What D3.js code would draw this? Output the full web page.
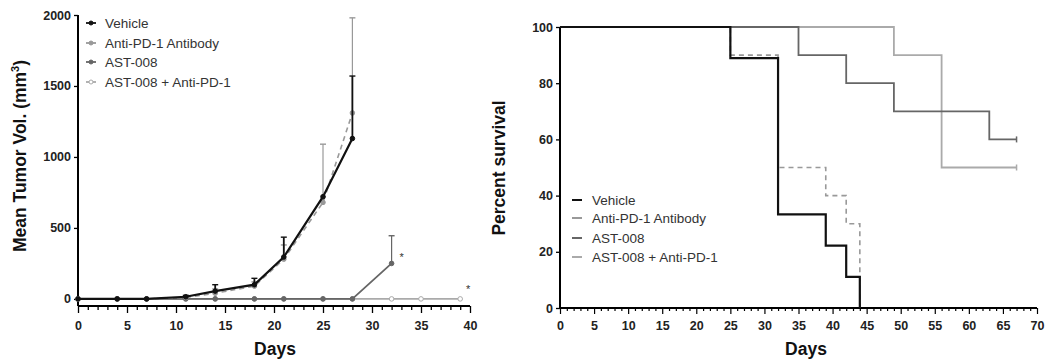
<!DOCTYPE html>
<html>
<head>
<meta charset="utf-8">
<script src="https://cdn.jsdelivr.net/npm/d3@7"></script>
<style>
  body { margin: 0; background: #fff; }
  text { font-family: "Liberation Sans", Arial, sans-serif; }
  .tick text { font-weight: bold; font-size: 12.5px; fill: #222; }
  .title { font-weight: bold; font-size: 17.5px; fill: #111; }
  .leg { font-size: 13.5px; fill: #333; }
</style>
</head>
<body>
<script>
// tumor volume data
var tumorSeries = ["Vehicle", "Anti-PD-1 Antibody", "AST-008", "AST-008 + Anti-PD-1"];
var vehicleDays = [0, 4, 7, 11, 14, 18, 21, 25, 28];
var vehicleVol = [0, 0, 0, 15, 55, 100, 295, 720, 1130];
var vehicleErr = [0, 0, 0, 10, 45, 45, 140, 0, 440];
var antiDays = [0, 4, 7, 11, 14, 18, 21, 25, 28];
var antiVol = [0, 0, 0, 10, 40, 90, 280, 680, 1310];
var antiErr = [0, 0, 0, 8, 30, 30, 100, 410, 670];
var astDays = [0, 4, 7, 11, 14, 18, 21, 25, 28, 32];
var astVol = [0, 0, 0, 0, 0, 0, 0, 0, 0, 250];
var astErr = [0, 0, 0, 0, 0, 0, 0, 0, 0, 195];
var comboDays = [0, 4, 7, 11, 14, 18, 21, 25, 28, 32, 35, 39];
var comboVol = [0, 0, 0, 0, 0, 0, 0, 0, 0, 0, 0, 0];

// survival data (step points: day, percent)
var survSeries = ["Vehicle", "Anti-PD-1  Antibody", "AST-008", "AST-008 + Anti-PD-1"];
var vehicleSurvDays = [0, 25, 32, 39, 42, 44];
var vehicleSurv = [100, 88.9, 33.3, 22.2, 11.1, 0];
var antiSurvDays = [0, 25, 32, 39, 42, 44];
var antiSurv = [100, 90, 50, 40, 30, 0];
var astSurvDays = [0, 35, 42, 49, 63, 67];
var astSurv = [100, 90, 80, 70, 60, 60];
var comboSurvDays = [0, 49, 56, 67];
var comboSurv = [100, 90, 50, 50];

var colors = ["#111", "#999", "#666", "#aaa"];
var dashes = [null, "5,4", null, null];
var widths = [2.2, 1.6, 1.8, 1.8];

var svg = d3.select("body").append("svg").attr("width", 1046).attr("height", 361);

// ---------- left chart ----------
var x1 = d3.scaleLinear().domain([0, 40]).range([78, 470]);
var y1 = d3.scaleLinear().domain([-50, 2000]).range([306, 15]);

var g1 = svg.append("g");
g1.append("g").attr("transform", "translate(0,306)")
  .call(d3.axisBottom(x1).tickValues(d3.range(0, 41, 1)).tickSize(5)
    .tickFormat(function(d) { return d % 5 == 0 ? d : ""; }))
  .call(function(a) {
    a.selectAll(".tick line").attr("y2", function(d) { return d % 5 == 0 ? 7 : 4; }).attr("stroke-width", 1.3);
    a.selectAll(".tick text").attr("dy", "1.3em");
    a.select(".domain").attr("stroke-width", 2).attr("d", "M78,0H470");
  });
g1.append("g").attr("transform", "translate(78,0)")
  .call(d3.axisLeft(y1).tickValues([0, 500, 1000, 1500, 2000]).tickSize(4).tickFormat(d3.format("d")))
  .call(function(a) {
    a.select(".domain").attr("stroke-width", 2).attr("d", "M0,15V306");
    a.selectAll(".tick line").attr("stroke-width", 1.3);
  });

var tumor = [
  { days: vehicleDays, v: vehicleVol, e: vehicleErr },
  { days: antiDays, v: antiVol, e: antiErr },
  { days: astDays, v: astVol, e: astErr },
  { days: comboDays, v: comboVol, e: null }
];
var line1 = d3.line().x(function(d) { return x1(d[0]); }).y(function(d) { return y1(d[1]); });
// draw in back-to-front order
[3, 2, 1, 0].forEach(function(i) {
  var s = tumor[i];
  var pts = s.days.map(function(d, j) { return [d, s.v[j], s.e ? s.e[j] : 0]; });
  var col = colors[i];
  pts.forEach(function(p) {
    if (p[2] > 0) {
      g1.append("line").attr("x1", x1(p[0])).attr("x2", x1(p[0]))
        .attr("y1", y1(p[1])).attr("y2", y1(p[1] + p[2])).attr("stroke", col).attr("stroke-width", i == 0 ? 1.8 : 1.2);
      g1.append("line").attr("x1", x1(p[0]) - 3).attr("x2", x1(p[0]) + 3)
        .attr("y1", y1(p[1] + p[2])).attr("y2", y1(p[1] + p[2])).attr("stroke", col).attr("stroke-width", 1.4);
    }
  });
  g1.append("path").datum(pts).attr("d", line1).attr("fill", "none")
    .attr("stroke", col).attr("stroke-width", widths[i]).attr("stroke-dasharray", dashes[i]);
  g1.selectAll(null).data(pts).enter().append("circle")
    .attr("cx", function(d) { return x1(d[0]); }).attr("cy", function(d) { return y1(d[1]); })
    .attr("r", 2.3)
    .attr("fill", i == 3 ? "#fff" : col).attr("stroke", col).attr("stroke-width", 1);
});
g1.append("text").attr("x", x1(32.8)).attr("y", y1(265)).attr("font-size", 11).attr("fill", "#333").text("*");
g1.append("text").attr("x", x1(39.6)).attr("y", y1(40)).attr("font-size", 11).attr("fill", "#333").text("*");

g1.append("text").attr("class", "title").attr("text-anchor", "middle")
  .attr("transform", "translate(26,156) rotate(-90)")
  .html('Mean Tumor Vol. (mm<tspan dy="-7" font-size="11">3</tspan><tspan dy="7">)</tspan>');
g1.append("text").attr("class", "title").attr("text-anchor", "middle").attr("x", 275).attr("y", 355).text("Days");

var leg1 = g1.selectAll(".l1").data(tumorSeries).enter().append("g")
  .attr("transform", function(d, i) { return "translate(86," + [23, 43, 62, 82][i] + ")"; });
leg1.append("line").attr("x1", 0).attr("x2", 10).attr("stroke", function(d, i) { return colors[i]; }).attr("stroke-width", 1.8);
leg1.append("circle").attr("cx", 5).attr("r", 2)
  .attr("fill", function(d, i) { return i == 3 ? "#fff" : colors[i]; }).attr("stroke", function(d, i) { return colors[i]; });
leg1.append("text").attr("class", "leg").attr("x", 19).attr("y", 5).text(function(d) { return d; });

// ---------- right chart ----------
var x2 = d3.scaleLinear().domain([0, 70]).range([560, 1037]);
var y2 = d3.scaleLinear().domain([0, 100]).range([308, 27]);

var g2 = svg.append("g");
g2.append("g").attr("transform", "translate(0,308)")
  .call(d3.axisBottom(x2).tickValues(d3.range(0, 71, 1)).tickSize(4)
    .tickFormat(function(d) { return d % 5 == 0 ? d : ""; }))
  .call(function(a) {
    a.selectAll(".tick line").attr("y2", function(d) { return d % 5 == 0 ? 6 : 3; }).attr("stroke-width", 1.2);
    a.selectAll(".tick text").attr("dy", "1.2em");
    a.select(".domain").attr("stroke-width", 2).attr("d", "M560,0H1037");
  });
g2.append("g").attr("transform", "translate(560,0)")
  .call(d3.axisLeft(y2).tickValues([0, 20, 40, 60, 80, 100]).tickSize(4))
  .call(function(a) {
    a.select(".domain").attr("stroke-width", 2).attr("d", "M0,27V308");
    a.selectAll(".tick line").attr("stroke-width", 1.3);
  });

var surv = [
  { days: vehicleSurvDays, p: vehicleSurv },
  { days: antiSurvDays, p: antiSurv },
  { days: astSurvDays, p: astSurv },
  { days: comboSurvDays, p: comboSurv }
];
var line2 = d3.line().curve(d3.curveStepAfter)
  .x(function(d) { return x2(d[0]); }).y(function(d) { return y2(d[1]); });
[3, 2, 1, 0].forEach(function(i) {
  var s = surv[i];
  var pts = s.days.map(function(d, j) { return [d, s.p[j]]; });
  g2.append("path").datum(pts).attr("d", line2).attr("fill", "none")
    .attr("stroke", colors[i]).attr("stroke-width", widths[i]).attr("stroke-dasharray", dashes[i]);
  if (i >= 2) {
    var last = pts[pts.length - 1];
    g2.append("line").attr("x1", x2(last[0])).attr("x2", x2(last[0]))
      .attr("y1", y2(last[1]) - 3).attr("y2", y2(last[1]) + 3).attr("stroke", colors[i]).attr("stroke-width", 1.5);
  }
});
g2.append("text").attr("class", "title").attr("text-anchor", "middle")
  .attr("transform", "translate(505,168) rotate(-90)").text("Percent survival");
g2.append("text").attr("class", "title").attr("text-anchor", "middle").attr("x", 806).attr("y", 355).text("Days");

var leg2 = g2.selectAll(".l2").data(survSeries).enter().append("g")
  .attr("transform", function(d, i) { return "translate(572," + [200, 218, 238, 257][i] + ")"; });
leg2.append("line").attr("x1", 0).attr("x2", 10).attr("stroke", function(d, i) { return colors[i]; }).attr("stroke-width", 2);
leg2.append("text").attr("class", "leg").attr("x", 20).attr("y", 5).text(function(d) { return d; });
</script>
</body>
</html>
